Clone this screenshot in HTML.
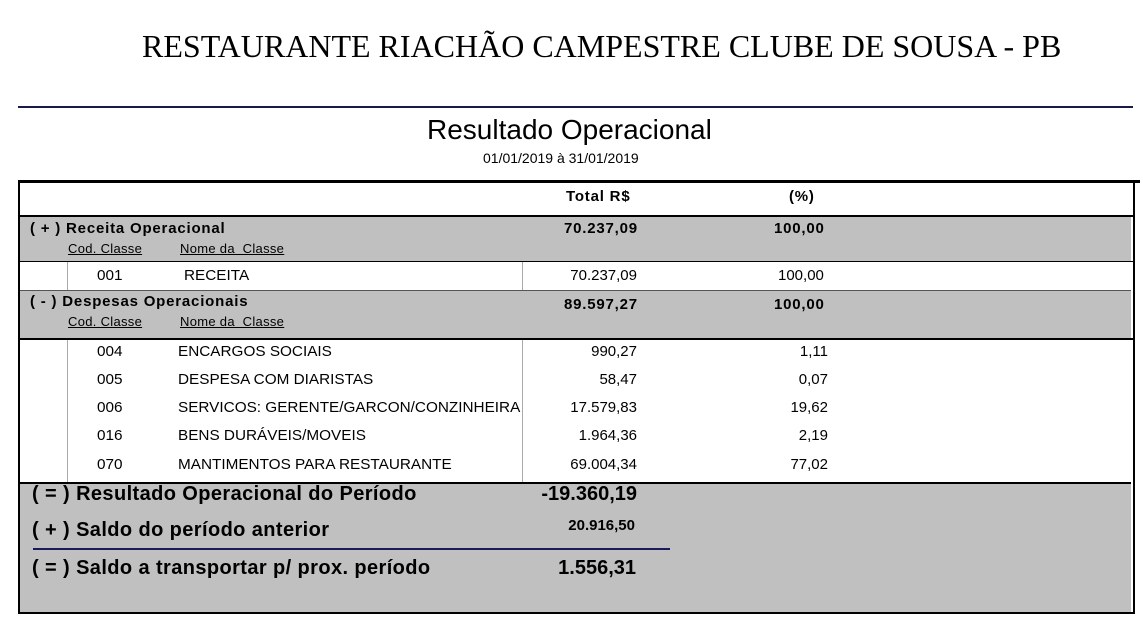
<!DOCTYPE html>
<html><head><meta charset="utf-8"><style>
body{margin:0;width:1143px;height:630px;background:#fff;position:relative;overflow:hidden;font-family:"Liberation Sans",sans-serif;color:#000}
div,span{position:absolute}
.t{white-space:nowrap}
.b{font-weight:bold}
.h{font-weight:bold;font-size:15px;letter-spacing:0.8px}
.g{background:#c0c0c0}
.u{text-decoration:underline;font-size:13px;letter-spacing:0.3px}
.n{font-size:15px;transform:scaleX(1.02);transform-origin:left}
.r{text-align:right}
.big{font-weight:bold;font-size:20px;letter-spacing:0.4px}
</style></head><body>
<div class="t" style="left:142px;top:28px;font-family:'Liberation Serif',serif;font-size:32px">RESTAURANTE RIACHÃO CAMPESTRE CLUBE DE SOUSA - PB</div>
<div style="left:18px;top:106px;width:1115px;height:2px;background:#1a1a4a"></div>
<div class="t" style="left:427px;top:114px;font-size:28px">Resultado Operacional</div>
<div class="t" style="left:483px;top:150px;font-size:14px">01/01/2019 à 31/01/2019</div>
<div style="left:18px;top:180px;width:1122px;height:3px;background:#000"></div>
<div style="left:18px;top:182px;width:1113px;height:430px;border:2px solid #000;border-top:none"></div>
<div class="t h" style="left:566px;top:188px">Total R$</div>
<div class="t h" style="left:789px;top:188px">(%)</div>
<div style="left:18px;top:215px;width:1115px;height:2px;background:#000"></div>
<div class="g" style="left:20px;top:217px;width:1111px;height:44px"></div>
<div style="left:18px;top:261px;width:1115px;height:1px;background:#000"></div>
<div class="g" style="left:20px;top:290px;width:1111px;height:48px;border-top:1px solid #555"></div>
<div style="left:18px;top:338px;width:1115px;height:2px;background:#000"></div>
<div class="g" style="left:20px;top:482px;width:1111px;height:128px;border-top:2px solid #000"></div>
<div style="left:67px;top:262px;width:1px;height:28px;background:#aaa"></div>
<div style="left:522px;top:262px;width:1px;height:28px;background:#aaa"></div>
<div style="left:67px;top:340px;width:1px;height:142px;background:#aaa"></div>
<div style="left:522px;top:340px;width:1px;height:142px;background:#aaa"></div>
<div class="t h" style="left:30px;top:220px">( + ) Receita Operacional</div>
<div class="t u" style="left:68px;top:241px">Cod. Classe</div>
<div class="t u" style="left:180px;top:241px">Nome da &nbsp;Classe</div>
<div class="t h" style="left:564px;top:220px">70.237,09</div>
<div class="t h" style="left:774px;top:220px">100,00</div>
<div class="t n" style="left:97px;top:267px">001</div>
<div class="t n" style="left:184px;top:267px">RECEITA</div>
<div class="t r" style="left:517px;top:267px;width:120px;font-size:15px">70.237,09</div>
<div class="t" style="left:778px;top:267px;font-size:15px">100,00</div>
<div class="t h" style="left:30px;top:293px">( - ) Despesas Operacionais</div>
<div class="t u" style="left:68px;top:314px">Cod. Classe</div>
<div class="t u" style="left:180px;top:314px">Nome da &nbsp;Classe</div>
<div class="t h" style="left:564px;top:296px">89.597,27</div>
<div class="t h" style="left:774px;top:296px">100,00</div>
<div class="t n" style="left:97px;top:343px">004</div><div class="t n" style="left:178px;top:343px">ENCARGOS SOCIAIS</div>
<div class="t r" style="left:517px;top:343px;width:120px;font-size:15px">990,27</div><div class="t r" style="left:708px;top:343px;width:120px;font-size:15px">1,11</div>
<div class="t n" style="left:97px;top:371px">005</div><div class="t n" style="left:178px;top:371px">DESPESA COM DIARISTAS</div>
<div class="t r" style="left:517px;top:371px;width:120px;font-size:15px">58,47</div><div class="t r" style="left:708px;top:371px;width:120px;font-size:15px">0,07</div>
<div class="t n" style="left:97px;top:399px">006</div><div class="t n" style="left:178px;top:399px">SERVICOS: GERENTE/GARCON/CONZINHEIRA</div>
<div class="t r" style="left:517px;top:399px;width:120px;font-size:15px">17.579,83</div><div class="t r" style="left:708px;top:399px;width:120px;font-size:15px">19,62</div>
<div class="t n" style="left:97px;top:427px">016</div><div class="t n" style="left:178px;top:427px">BENS DURÁVEIS/MOVEIS</div>
<div class="t r" style="left:517px;top:427px;width:120px;font-size:15px">1.964,36</div><div class="t r" style="left:708px;top:427px;width:120px;font-size:15px">2,19</div>
<div class="t n" style="left:97px;top:456px">070</div><div class="t n" style="left:178px;top:456px">MANTIMENTOS PARA RESTAURANTE</div>
<div class="t r" style="left:517px;top:456px;width:120px;font-size:15px">69.004,34</div><div class="t r" style="left:708px;top:456px;width:120px;font-size:15px">77,02</div>
<div class="t big" style="left:32px;top:483px">( = ) Resultado Operacional do Período</div>
<div class="t b r" style="left:500px;top:483px;width:137px;font-size:20px">-19.360,19</div>
<div class="t big" style="left:32px;top:519px">( + ) Saldo do período anterior</div>
<div class="t b r" style="left:500px;top:517px;width:135px;font-size:15px">20.916,50</div>
<div style="left:33px;top:548px;width:637px;height:2px;background:#1a1a5a"></div>
<div class="t big" style="left:32px;top:557px">( = ) Saldo a transportar p/ prox. período</div>
<div class="t b r" style="left:500px;top:557px;width:136px;font-size:20px">1.556,31</div>
</body></html>
